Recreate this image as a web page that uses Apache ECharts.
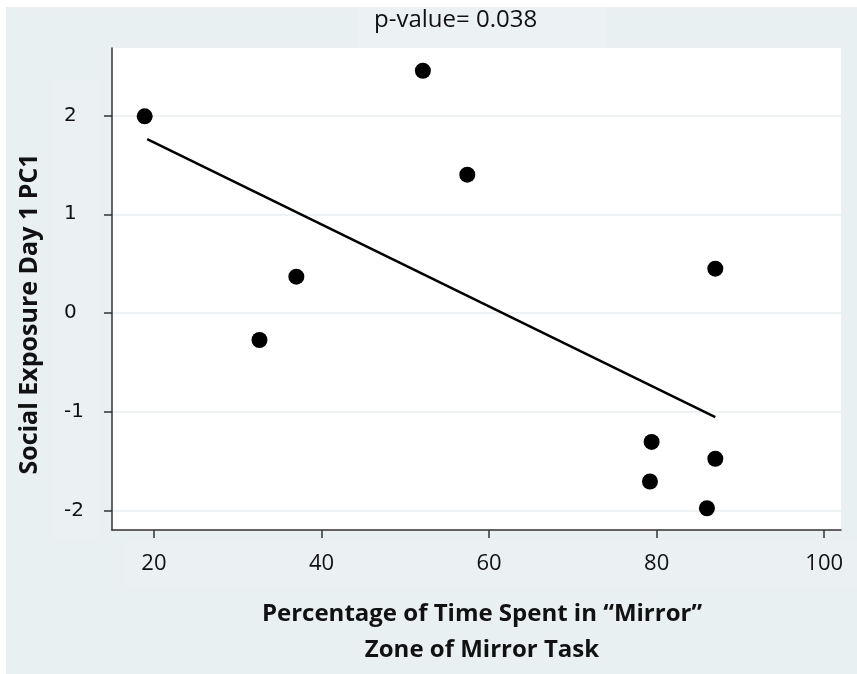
<!DOCTYPE html>
<html>
<head>
<meta charset="utf-8">
<script src="https://cdn.jsdelivr.net/npm/echarts@6/dist/echarts.min.js"></script>
<style>
  html, body { margin: 0; padding: 0; background: #ffffff; }
  #chart { width: 857px; height: 674px; }
</style>
</head>
<body>
<div id="chart"></div>
<script>
// ---- data ----
const titleText = 'p-value= 0.038';
const xAxisTitle = 'Percentage of Time Spent in \u201CMirror\u201D\nZone of Mirror Task';
const yAxisTitle = 'Social Exposure Day 1 PC1';

const pctMirror = [18.9, 52.1, 57.4, 37.0, 32.6, 87.0, 79.4, 79.2, 87.0, 86.0];
const pc1Values = [1.99, 2.45, 1.40, 0.37, -0.27, 0.45, -1.30, -1.70, -1.47, -1.97];

// fitted line end points
const fitX = [19.2, 87.0];
const fitY = [1.76, -1.05];

const xTicks = [20, 40, 60, 80, 100];
const yTicks = [-2, -1, 0, 1, 2];

// ---- chart ----
const points = pctMirror.map((x, i) => [x, pc1Values[i]]);
const fitLine = fitX.map((x, i) => [x, fitY[i]]);

const chart = echarts.init(document.getElementById('chart'), null, { renderer: 'canvas' });

const option = {
  backgroundColor: '#ffffff',
  animation: false,
  graphic: [
    { type: 'rect', z: -10, shape: { x: 6, y: 7, width: 851, height: 667 }, style: { fill: '#e8f0f1' } },
    { type: 'rect', z: -9, shape: { x: 357, y: 7, width: 250, height: 41 }, style: { fill: '#ecf2f3' } },
    { type: 'rect', z: -9, shape: { x: 53, y: 80, width: 47, height: 460 }, style: { fill: '#ebf1f2' } },
    { type: 'rect', z: -9, shape: { x: 125, y: 540, width: 732, height: 48 }, style: { fill: '#ebf1f2' } },
    {
      type: 'text', z: 10,
      x: 30, y: 314, rotation: Math.PI / 2,
      style: {
        text: yAxisTitle, fill: '#111111',
        font: 'bold 25px "Open Sans"',
        align: 'center', verticalAlign: 'middle'
      }
    }
  ],
  title: {
    text: titleText,
    left: 369,
    top: 3,
    textStyle: { fontFamily: 'Open Sans', fontSize: 24, fontWeight: 'normal', color: '#111111' }
  },
  grid: {
    left: 112, right: 16, top: 48, bottom: 144,
    show: true, backgroundColor: '#ffffff', borderWidth: 0,
    outerBoundsMode: 'none', containLabel: false
  },
  xAxis: {
    type: 'value', min: 15, max: 102,
    name: xAxisTitle, nameLocation: 'middle', nameGap: 66,
    nameTextStyle: { fontFamily: 'Open Sans', fontSize: 24, fontWeight: 'bold', color: '#111111', lineHeight: 36, padding: [0, 0, 0, 11] },
    axisLine: { show: true, onZero: false, lineStyle: { color: '#333333', width: 1.5 } },
    axisTick: { show: true, length: 8, customValues: xTicks, lineStyle: { color: '#333333', width: 1.5 } },
    axisLabel: { customValues: xTicks, margin: 23, fontFamily: 'Open Sans', fontSize: 22, color: '#111111' },
    splitLine: { show: false }
  },
  yAxis: {
    type: 'value', min: -2.19, max: 2.68,
    axisLine: { show: true, onZero: false, lineStyle: { color: '#333333', width: 1.5 } },
    axisTick: { show: true, length: 8, customValues: yTicks, lineStyle: { color: '#333333', width: 1.5 } },
    axisLabel: { customValues: yTicks, margin: 48, align: 'left', fontFamily: 'DejaVu Sans', fontSize: 20, color: '#111111' },
    splitLine: { show: true, lineStyle: { color: '#eef3f5', width: 2 } }
  },
  series: [
    {
      type: 'line',
      data: fitLine,
      symbol: 'none',
      lineStyle: { color: '#000000', width: 2.5 },
      z: 2
    },
    {
      type: 'scatter',
      data: points,
      symbol: 'circle',
      symbolSize: 16,
      itemStyle: { color: '#000000', opacity: 1 },
      z: 3
    }
  ]
};

chart.setOption(option);
</script>
</body>
</html>
